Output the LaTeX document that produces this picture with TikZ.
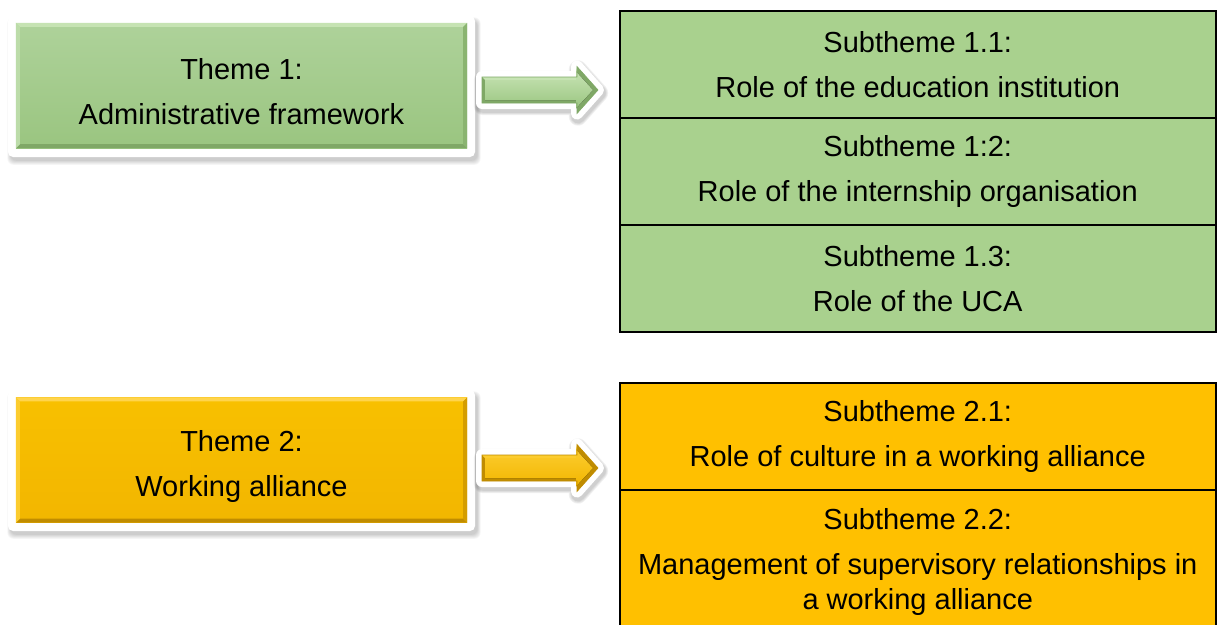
\documentclass[tikz,border=0pt]{standalone}
\usepackage{fontspec}
\setmainfont{Liberation Sans}
\usetikzlibrary{calc}
\definecolor{subgreen}{HTML}{A9D18E}
\definecolor{subyellow}{HTML}{FFC000}
\definecolor{thgreenT}{HTML}{AED29A}
\definecolor{thgreenB}{HTML}{9AC580}
\definecolor{thgreenL}{HTML}{C6E3B3}
\definecolor{thgreenD}{HTML}{7FA866}
\definecolor{thyelT}{HTML}{F8C000}
\definecolor{thyelB}{HTML}{F2B600}
\definecolor{thyelL}{HTML}{FFD44D}
\definecolor{thyelD}{HTML}{C08C00}
\newcommand{\softshadow}[4]{% x1 y1 x2 y2
  \foreach \k in {1,...,6}{
    \fill[black, opacity=0.035, rounded corners=6pt]
      ($(#1,#2)+(-\k*0.6+2, -\k*0.6+4)$) rectangle ($(#3,#4)+(\k*0.6+2, \k*0.8+3)$);
  }}
\newcommand{\themearrow}[4]{% yc, light, mid, edge
  \begin{scope}
  \coordinate (ab1) at (482,#1-13);
  \coordinate (ab2) at (577,#1-13);
  \coordinate (ab3) at (577,#1-23.5);
  \coordinate (ab4) at (598,#1);
  \coordinate (ab5) at (577,#1+23.5);
  \coordinate (ab6) at (577,#1+13);
  \coordinate (ab7) at (482,#1+13);
  \foreach \k in {1,...,4}{
    \draw[black, opacity=0.05, line width={12pt+\k*1.6pt}, line join=round]
      ([shift={(1,3)}]ab1) -- ([shift={(1,3)}]ab2) -- ([shift={(1,3)}]ab3) -- ([shift={(1,3)}]ab4) -- ([shift={(1,3)}]ab5) -- ([shift={(1,3)}]ab6) -- ([shift={(1,3)}]ab7) -- cycle;}
  \draw[white, line width=12pt, line join=round, fill=white] (ab1) -- (ab2) -- (ab3) -- (ab4) -- (ab5) -- (ab6) -- (ab7) -- cycle;
  \fill[#4] (ab1) -- (ab2) -- (ab3) -- (ab4) -- (ab5) -- (ab6) -- (ab7) -- cycle;
  \fill[#2] (ab1) -- (ab2) -- (ab3) -- ([shift={(-1,5)}]ab3) -- ([shift={(-1,3)}]ab2) -- ([shift={(3,3)}]ab1) -- cycle;
  \fill[top color=#2, bottom color=#3] ([shift={(3,3)}]ab1) -- ([shift={(-1,3)}]ab2) -- ([shift={(-1,5)}]ab3) -- ([shift={(-5,0)}]ab4) -- ([shift={(-1,-5)}]ab5) -- ([shift={(-1,-3)}]ab6) -- ([shift={(3,-3)}]ab7) -- cycle;
  \draw[#4, line width=0.6pt, line join=miter] (ab1) -- (ab2) -- (ab3) -- (ab4) -- (ab5) -- (ab6) -- (ab7) -- cycle;
  \end{scope}}
\begin{document}
\begin{tikzpicture}[x=1pt,y=-1pt,
  txt/.style={font=\fontsize{29}{35}\selectfont},
  subcell/.style={txt, draw=black, line width=1.5pt, minimum width=596pt, minimum height=107pt,
    align=center, inner sep=0pt, anchor=north west},
  frame/.style={fill=white, rounded corners=5pt},
  themebox/.style={minimum width=451pt, minimum height=125pt, inner sep=0pt},
]
\useasboundingbox (0,0) rectangle (1217,624);

% ---------- Theme 1 ----------
\softshadow{9}{17}{475}{157}
\path[frame] (8,16) rectangle (475,157);
\node[themebox, top color=thgreenT, bottom color=thgreenB] (t1) at (241.5,85.5) {};
\fill[thgreenL] (t1.north west) -- (t1.north east) -- ([shift={(-4,4)}]t1.north east) -- ([shift={(4,4)}]t1.north west) -- cycle;
\fill[thgreenD] (t1.south west) -- (t1.south east) -- ([shift={(-4,-4)}]t1.south east) -- ([shift={(4,-4)}]t1.south west) -- cycle;
\fill[thgreenD!60!thgreenB] (t1.north east) -- (t1.south east) -- ([shift={(-4,-4)}]t1.south east) -- ([shift={(-4,4)}]t1.north east) -- cycle;
\fill[thgreenL!60!thgreenT] (t1.north west) -- (t1.south west) -- ([shift={(4,-4)}]t1.south west) -- ([shift={(4,4)}]t1.north west) -- cycle;
\node[txt, align=center] (t1text) at ([yshift=-6pt]t1.center) {Theme 1:\\[10pt]Administrative framework};

\themearrow{90}{thgreenL}{thgreenB}{thgreenD}

\node[subcell, fill=subgreen] (s11) at (619,10) {Subtheme 1.1:\\[10pt]Role of the education institution};
\node[subcell, fill=subgreen] (s12) at (619,117) {Subtheme 1:2:\\[10pt]Role of the internship organisation};
\node[subcell, fill=subgreen] (s13) at (619,224) {Subtheme 1.3:\\[10pt]Role of the UCA};

% ---------- Theme 2 ----------
\softshadow{9}{391}{475}{531}
\path[frame] (8,390) rectangle (475,531);
\node[themebox, top color=thyelT, bottom color=thyelB] (t2) at (241.5,460) {};
\fill[thyelL] (t2.north west) -- (t2.north east) -- ([shift={(-4,4)}]t2.north east) -- ([shift={(4,4)}]t2.north west) -- cycle;
\fill[thyelD] (t2.south west) -- (t2.south east) -- ([shift={(-4,-4)}]t2.south east) -- ([shift={(4,-4)}]t2.south west) -- cycle;
\fill[thyelD!60!thyelB] (t2.north east) -- (t2.south east) -- ([shift={(-4,-4)}]t2.south east) -- ([shift={(-4,4)}]t2.north east) -- cycle;
\fill[thyelL!60!thyelT] (t2.north west) -- (t2.south west) -- ([shift={(4,-4)}]t2.south west) -- ([shift={(4,4)}]t2.north west) -- cycle;
\node[txt, align=center] (t2text) at ([yshift=-6pt]t2.center) {Theme 2:\\[10pt]Working alliance};

\themearrow{468}{thyelL!60!thyelT}{thyelB}{thyelD}

\node[subcell, fill=subyellow] (s21) at (619,382) {Subtheme 2.1:\\[10pt]Role of culture in a working alliance};
\node[subcell, fill=subyellow, minimum height=145pt] (s22) at (619,489) {Subtheme 2.2:\\[10pt]Management of supervisory relationships in\\a working alliance};
\end{tikzpicture}
\end{document}
